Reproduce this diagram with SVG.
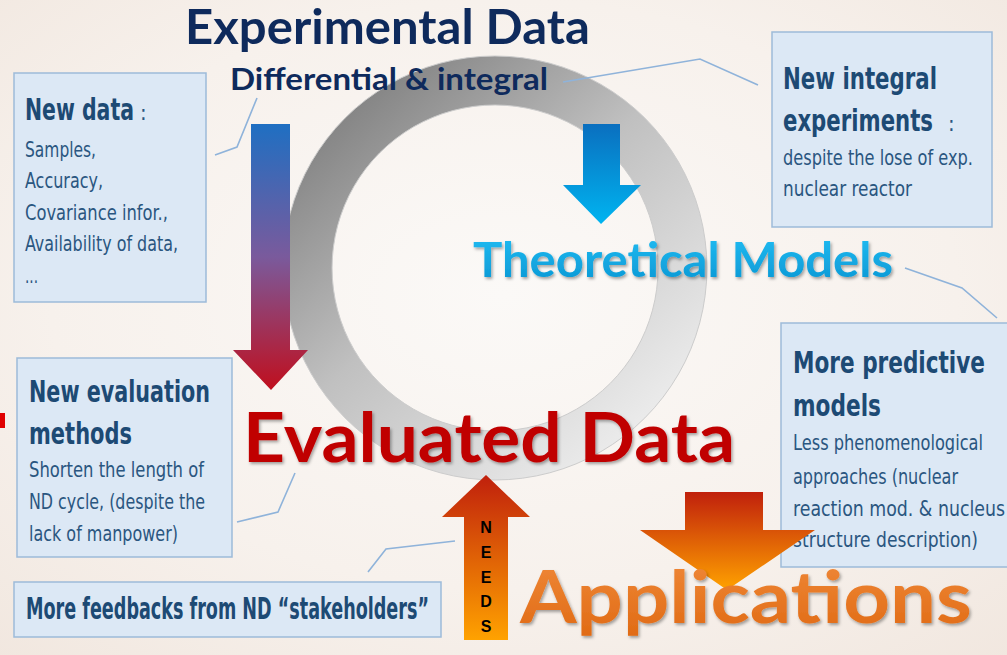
<svg xmlns="http://www.w3.org/2000/svg" width="1007" height="655" viewBox="0 0 1007 655">
<defs>
<radialGradient id="bg" cx="50%" cy="45%" r="75%">
<stop offset="0" stop-color="#fbf9f7"/>
<stop offset="0.6" stop-color="#f7f1ec"/>
<stop offset="1" stop-color="#f1e7df"/>
</radialGradient>
<linearGradient id="ringG" x1="0.15" y1="0.1" x2="0.85" y2="0.9">
<stop offset="0" stop-color="#828282"/>
<stop offset="0.45" stop-color="#c0c0c0"/>
<stop offset="1" stop-color="#ededed"/>
</linearGradient>
<linearGradient id="leftArrowG" x1="0" y1="0" x2="0" y2="1">
<stop offset="0" stop-color="#1f6fc2"/>
<stop offset="0.5" stop-color="#7a5a9c"/>
<stop offset="1" stop-color="#c00f1e"/>
</linearGradient>
<linearGradient id="blueArrowG" x1="0" y1="0" x2="0" y2="1">
<stop offset="0" stop-color="#0a6fbf"/>
<stop offset="1" stop-color="#00b4f0"/>
</linearGradient>
<linearGradient id="orangeG" x1="0" y1="0" x2="0" y2="1">
<stop offset="0" stop-color="#c0200c"/>
<stop offset="1" stop-color="#ffa200"/>
</linearGradient>
<linearGradient id="theoG" x1="0" y1="0" x2="0" y2="1">
<stop offset="0" stop-color="#22bff5"/>
<stop offset="1" stop-color="#0a95d2"/>
</linearGradient>
<linearGradient id="appG" x1="0" y1="0" x2="0" y2="1">
<stop offset="0" stop-color="#f08a3a"/>
<stop offset="1" stop-color="#e06a14"/>
</linearGradient>
<filter id="shadow" x="-10%" y="-10%" width="120%" height="130%">
<feDropShadow dx="1.5" dy="2" stdDeviation="1.5" flood-color="#000" flood-opacity="0.35"/>
</filter>
</defs>
<style>
.box{fill:#dce8f5;stroke:#9dbbd9;stroke-width:1.5}
.hd{font-family:"DejaVu Sans Condensed","DejaVu Sans",sans-serif;font-stretch:condensed;font-weight:bold;font-size:30px;fill:#1d4a74}
.bd{font-family:"DejaVu Sans Condensed","DejaVu Sans",sans-serif;font-stretch:condensed;font-size:22px;fill:#2a5680}
.ttl{font-family:Lato,"Open Sans",sans-serif;font-weight:bold}
.lead{fill:none;stroke:#8fb3da;stroke-width:1.6}
.needs{font-family:"Liberation Sans",Arial,sans-serif;font-weight:bold;font-size:16px;fill:#000;text-anchor:middle}
</style>
<rect width="1007" height="655" fill="url(#bg)"/>

<g id="ring">
<path d="M495,56 A212,212 0 1,1 494.9,56 Z M495,105 A163,163 0 1,0 495.1,105 Z" fill="url(#ringG)" fill-rule="evenodd" stroke="#cccccc" stroke-width="1"/>
</g>

<g id="connectors">
<polyline class="lead" points="215,155 237,147 257,98"/>
<polyline class="lead" points="563,82 700,59 758,85"/>
<polyline class="lead" points="905,268 962,288 997,318"/>
<polyline class="lead" points="295,473 278,512 237,522"/>
<polyline class="lead" points="368,572 386,549 455,541"/>
</g>

<g id="experimental-data">
<text class="ttl" x="185" y="44" font-size="47" fill="#0e2a5c" textLength="405" lengthAdjust="spacingAndGlyphs">Experimental Data</text>
<text class="ttl" x="230" y="90" font-size="30" fill="#0e2a5c" textLength="318" lengthAdjust="spacingAndGlyphs">Differential &amp; integral</text>
</g>

<g id="theoretical-models">
<text class="ttl" x="473" y="277" font-size="48" fill="url(#theoG)" filter="url(#shadow)" textLength="420" lengthAdjust="spacingAndGlyphs">Theoretical Models</text>
</g>

<g id="evaluated-data">
<text class="ttl" x="243" y="462" font-size="68" fill="#c00000" filter="url(#shadow)" textLength="492" lengthAdjust="spacingAndGlyphs">Evaluated Data</text>
</g>

<g id="arrow-left">
<polygon points="251,124 290,124 290,350 308,350 271,390 233,350 251,350" fill="url(#leftArrowG)"/>
</g>
<g id="arrow-blue">
<polygon points="583,124 620,124 620,185 641,185 601,224 563,185 583,185" fill="url(#blueArrowG)"/>
</g>

<g id="box-new-data">
<rect class="box" x="14" y="73" width="192" height="229"/>
<text class="hd" x="25" y="120" textLength="109" lengthAdjust="spacingAndGlyphs">New data</text>
<text class="bd" x="140" y="120" font-size="18">:</text>
<text class="bd" x="25" y="157" textLength="71" lengthAdjust="spacingAndGlyphs">Samples,</text>
<text class="bd" x="25" y="188" textLength="78" lengthAdjust="spacingAndGlyphs">Accuracy,</text>
<text class="bd" x="25" y="220" textLength="143" lengthAdjust="spacingAndGlyphs">Covariance infor.,</text>
<text class="bd" x="25" y="251" textLength="153" lengthAdjust="spacingAndGlyphs">Availability of data,</text>
<text class="bd" x="25" y="283" textLength="13" lengthAdjust="spacingAndGlyphs">...</text>
</g>

<g id="box-new-integral">
<rect class="box" x="772" y="32" width="220" height="195"/>
<text class="hd" x="783" y="89" textLength="154" lengthAdjust="spacingAndGlyphs">New integral</text>
<text class="hd" x="783" y="131" textLength="150" lengthAdjust="spacingAndGlyphs">experiments</text>
<text class="bd" x="948" y="131" font-size="18">:</text>
<text class="bd" x="783" y="165" textLength="190" lengthAdjust="spacingAndGlyphs">despite the lose of exp.</text>
<text class="bd" x="783" y="196" textLength="129" lengthAdjust="spacingAndGlyphs">nuclear reactor</text>
</g>

<g id="box-new-evaluation">
<rect class="box" x="17" y="358" width="215" height="199"/>
<text class="hd" x="29" y="402" textLength="181" lengthAdjust="spacingAndGlyphs">New evaluation</text>
<text class="hd" x="29" y="444" textLength="103" lengthAdjust="spacingAndGlyphs">methods</text>
<text class="bd" x="29" y="477" textLength="175" lengthAdjust="spacingAndGlyphs">Shorten the length of</text>
<text class="bd" x="29" y="509" textLength="176" lengthAdjust="spacingAndGlyphs">ND cycle, (despite the</text>
<text class="bd" x="29" y="541" textLength="149" lengthAdjust="spacingAndGlyphs">lack of manpower)</text>
</g>

<g id="box-feedbacks">
<rect class="box" x="14" y="582" width="427" height="55"/>
<text class="hd" x="26" y="619" font-size="27" textLength="403" lengthAdjust="spacingAndGlyphs">More feedbacks from ND “stakeholders”</text>
</g>

<g id="box-predictive">
<rect class="box" x="781" y="323" width="240" height="244"/>
<text class="hd" x="793" y="373" textLength="192" lengthAdjust="spacingAndGlyphs">More predictive</text>
<text class="hd" x="793" y="416" textLength="88" lengthAdjust="spacingAndGlyphs">models</text>
<text class="bd" x="793" y="450" textLength="190" lengthAdjust="spacingAndGlyphs">Less phenomenological</text>
<text class="bd" x="793" y="484" textLength="165" lengthAdjust="spacingAndGlyphs">approaches (nuclear</text>
<text class="bd" x="793" y="516" textLength="212" lengthAdjust="spacingAndGlyphs">reaction mod. &amp; nucleus</text>
<text class="bd" x="793" y="547" textLength="185" lengthAdjust="spacingAndGlyphs">structure description)</text>
</g>

<g id="arrow-applications">
<polygon points="685,492 763,492 763,530 815,530 727,590 640,530 685,530" fill="url(#orangeG)"/>
</g>

<g id="arrow-needs">
<polygon points="464,640 508,640 508,517 530,517 486,475 442,517 464,517" fill="url(#orangeG)"/>
<text class="needs" x="486" y="533">N</text>
<text class="needs" x="486" y="558">E</text>
<text class="needs" x="486" y="583">E</text>
<text class="needs" x="486" y="607">D</text>
<text class="needs" x="486" y="632">S</text>
</g>

<g id="applications">
<text class="ttl" x="520" y="623" font-size="72" fill="url(#appG)" filter="url(#shadow)" textLength="452" lengthAdjust="spacingAndGlyphs">Applications</text>
</g>

<polygon points="0,413 5,413 5,428 0,428" fill="#e00000"/>
</svg>
